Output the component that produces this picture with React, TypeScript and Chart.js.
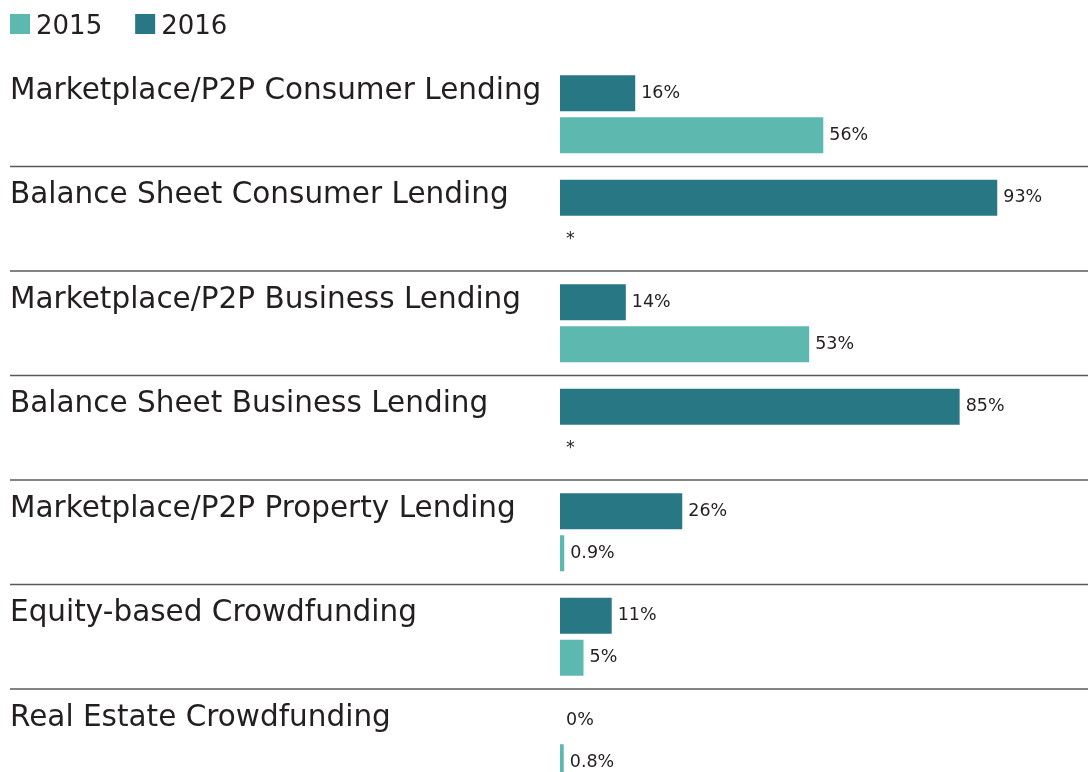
import React, { useEffect, useRef } from "react";
import { Chart, registerables } from "chart.js";

Chart.register(...registerables);

const categories = [
  "Marketplace/P2P Consumer Lending",
  "Balance Sheet Consumer Lending",
  "Marketplace/P2P Business Lending",
  "Balance Sheet Business Lending",
  "Marketplace/P2P Property Lending",
  "Equity-based Crowdfunding",
  "Real Estate Crowdfunding",
];
const values2016: (number | null)[] = [16, 93, 14, 85, 26, 11, 0];
const values2015: (number | null)[] = [56, null, 53, null, 0.9, 5, 0.8];
const legendOrder = ["2015", "2016"];

const COLOR_2016 = "#277884";
const COLOR_2015 = "#5DB9B0";
const TEXT = "#231f20";
const FONT = '"DejaVu Sans", sans-serif';

function fmt(v: number | null) {
  if (v === null || v === undefined) return "*";
  return `${v}%`;
}

const overlayPlugin = {
  id: "overlay",
  afterDatasetsDraw(chart: any) {
    const ctx = chart.ctx as CanvasRenderingContext2D;
    const yScale = chart.scales.y;
    const xScale = chart.scales.x;
    const n = categories.length;
    ctx.save();

    // separators
    ctx.strokeStyle = "#5a5a5a";
    ctx.lineWidth = 1.5;
    for (let i = 0; i < n - 1; i++) {
      const y = (yScale.getPixelForValue(i) + yScale.getPixelForValue(i + 1)) / 2;
      ctx.beginPath();
      ctx.moveTo(10, y);
      ctx.lineTo(chart.width, y);
      ctx.stroke();
    }

    // category labels
    ctx.fillStyle = TEXT;
    ctx.font = `29.5px ${FONT}`;
    ctx.textAlign = "left";
    ctx.textBaseline = "alphabetic";
    for (let i = 0; i < n; i++) {
      const c = yScale.getPixelForValue(i);
      ctx.fillText(categories[i], 10, c - 15.5);
    }

    // value labels
    ctx.font = `17.5px ${FONT}`;
    ctx.textBaseline = "middle";
    const base = xScale.getPixelForValue(0);
    chart.data.datasets.forEach((ds: any, di: number) => {
      const meta = chart.getDatasetMeta(di);
      meta.data.forEach((el: any, j: number) => {
        const v = ds.data[j];
        const x = v === null || isNaN(el.x) ? base : el.x;
        ctx.fillText(fmt(v), x + 6, el.y);
      });
    });

    // legend
    ctx.font = `26px ${FONT}`;
    ctx.textBaseline = "alphabetic";
    let lx = 10;
    legendOrder.forEach((name) => {
      const ds = chart.data.datasets.find((d: any) => d.label === name);
      ctx.fillStyle = ds.backgroundColor;
      ctx.fillRect(lx, 14, 20, 20);
      ctx.fillStyle = TEXT;
      ctx.fillText(name, lx + 26, 34);
      lx += 26 + ctx.measureText(name).width + 33;
    });

    ctx.restore();
  },
};

export default function App() {
  const ref = useRef<HTMLCanvasElement | null>(null);
  useEffect(() => {
    if (!ref.current) return;
    const chart = new Chart(ref.current, {
      type: "bar",
      data: {
        labels: categories,
        datasets: [
          {
            label: "2016",
            data: values2016,
            backgroundColor: COLOR_2016,
            categoryPercentage: 0.804,
            barPercentage: 0.857,
          },
          {
            label: "2015",
            data: values2015,
            backgroundColor: COLOR_2015,
            categoryPercentage: 0.804,
            barPercentage: 0.857,
          },
        ],
      },
      options: {
        indexAxis: "y",
        responsive: false,
        animation: false,
        layout: { padding: { left: 560, top: 62, right: 0, bottom: 6.5 } },
        scales: {
          x: { type: "linear", min: 0, max: 112.3, display: false },
          y: { type: "category", display: false },
        },
        plugins: {
          legend: { display: false },
          tooltip: { enabled: false },
        },
      },
      plugins: [overlayPlugin],
    } as any);
    return () => chart.destroy();
  }, []);

  return (
    <div
      style={{
        position: "fixed",
        left: 0,
        top: 0,
        width: 1088,
        height: 772,
        overflow: "hidden",
        background: "#fff",
      }}
    >
      <canvas ref={ref} width={1088} height={800} style={{ width: 1088, height: 800, display: "block" }} />
    </div>
  );
}
